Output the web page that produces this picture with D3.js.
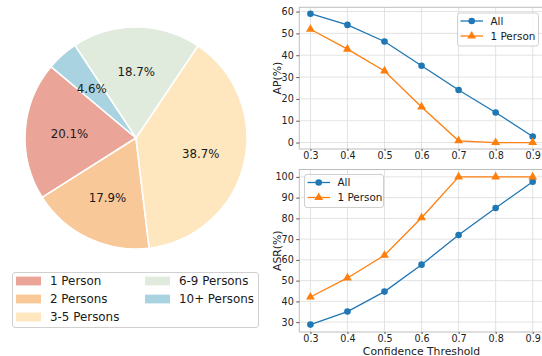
<!DOCTYPE html>
<html><head><meta charset="utf-8">
<script src="https://cdn.jsdelivr.net/npm/d3@7"></script>
<style>body{margin:0;background:#fff}svg{display:block;font-family:"DejaVu Sans",sans-serif}</style>
</head><body><svg id="c" width="542" height="356"></svg>
<script>
// ---- data ----
const groups = ["1 Person","2 Persons","3-5 Persons","6-9 Persons","10+ Persons"];
const shares = [20.1, 17.9, 38.7, 18.7, 4.6];
const pieColors = ["#EBA498","#F8C899","#FEE6BE","#E1EBDD","#A9D3E0"];
const thresholds = [0.3,0.4,0.5,0.6,0.7,0.8,0.9];
const apAll = [59.0, 53.9, 46.3, 35.2, 24.1, 13.8, 2.8];
const ap1P = [51.9, 42.8, 32.8, 16.3, 0.8, 0.0, 0.0];
const asrAll = [28.8, 35.1, 44.7, 57.7, 72.0, 85.0, 97.7];
const asr1P = [42.1, 51.3, 62.2, 80.3, 100, 100, 100];
const seriesNames = ["All","1 Person"];
const lineColors = ["#1f77b4","#ff7f0e"];
const xTicks = [0.3,0.4,0.5,0.6,0.7,0.8,0.9];
const apTicks = [0,10,20,30,40,50,60];
const asrTicks = [30,40,50,60,70,80,90,100];

const svg = d3.select("#c");
const deg = Math.PI/180;

// ---- pie ----
const cx = 136, cy = 138, R = 111;
const pie = d3.pie().sort(null).startAngle(-50*deg).endAngle(-410*deg);
const arcs = pie(shares);
const arc = d3.arc().innerRadius(0).outerRadius(R);
const lab = d3.arc().innerRadius(R*0.6).outerRadius(R*0.6);
const pg = svg.append("g").attr("transform",`translate(${cx},${cy})`);
pg.selectAll("path").data(arcs).join("path")
  .attr("d",arc).attr("fill",(d,i)=>pieColors[i])
  .attr("stroke","#fff").attr("stroke-width",1.6).attr("stroke-linejoin","round");
pg.selectAll("text").data(arcs).join("text")
  .attr("transform",d=>`translate(${lab.centroid(d)})`)
  .attr("text-anchor","middle").attr("dy","0.36em")
  .attr("font-size",11.8).attr("fill","#1a1a1a")
  .text(d=>d.data.toFixed(1)+"%");

// pie legend
const lg = svg.append("g");
lg.append("rect").attr("x",12.5).attr("y",272.5).attr("width",246).attr("height",55)
  .attr("rx",2.5).attr("fill","#fff").attr("stroke","#d0d0d0").attr("stroke-width",1);
groups.forEach((g,i)=>{
  const col = i<3?0:1, row = i<3?i:i-3;
  const px = col===0?16:145, py = 281 + row*18;
  lg.append("rect").attr("x",px).attr("y",py-4.4).attr("width",25).attr("height",8.8).attr("fill",pieColors[i]);
  lg.append("text").attr("x",px+34).attr("y",py).attr("dy","0.36em")
    .attr("font-size",11.9).attr("fill","#1a1a1a").text(g);
});

// ---- line charts ----
const x = d3.scaleLinear().domain([0.27,0.93]).range([299.3,543.8]);
function pad(vals){const mn=d3.min(vals),mx=d3.max(vals),m=(mx-mn)*0.05;return [mn-m,mx+m];}

function panel(top,bottom,ySeries,yTicks,yLabel,legendPos,showXLabel){
  const y = d3.scaleLinear().domain(pad(ySeries.flat())).range([bottom,top]);
  const g = svg.append("g");
  // grid
  g.selectAll(".gx").data(xTicks).join("line")
    .attr("x1",d=>x(d)).attr("x2",d=>x(d)).attr("y1",top).attr("y2",bottom)
    .attr("stroke","#e0e0e0").attr("stroke-width",0.9);
  g.selectAll(".gy").data(yTicks).join("line")
    .attr("x1",x.range()[0]).attr("x2",x.range()[1]).attr("y1",d=>y(d)).attr("y2",d=>y(d))
    .attr("stroke","#e0e0e0").attr("stroke-width",0.9);
  // frame
  g.append("rect").attr("x",x.range()[0]).attr("y",top).attr("width",x.range()[1]-x.range()[0]).attr("height",bottom-top)
    .attr("fill","none").attr("stroke","#bdbdbd").attr("stroke-width",1);
  // axes
  const ax = g.append("g").attr("transform",`translate(0,${bottom})`)
    .call(d3.axisBottom(x).tickValues(xTicks).tickFormat(d3.format(".1f")).tickSize(2).tickPadding(1.5));
  const ay = g.append("g").attr("transform",`translate(${x.range()[0]},0)`)
    .call(d3.axisLeft(y).tickValues(yTicks).tickSize(3).tickPadding(2.5));
  [ax,ay].forEach(a=>{
    a.select(".domain").remove();
    a.selectAll("line").attr("stroke","#555");
    a.selectAll("text").attr("font-size",9.6).attr("fill","#222").attr("font-family","DejaVu Sans");
  });
  g.append("text").attr("transform",`translate(281,${(top+bottom)/2}) rotate(-90)`)
    .attr("text-anchor","middle").attr("font-size",10.8).attr("fill","#222").text(yLabel);
  if(showXLabel){
    g.append("text").attr("x",(x(0.3)+x(0.9))/2).attr("y",354.5).attr("text-anchor","middle")
      .attr("font-size",10.8).attr("fill","#222").text("Confidence Threshold");
  }
  const line = d3.line().x((d,i)=>x(thresholds[i])).y(d=>y(d));
  ySeries.forEach((s,k)=>{
    g.append("path").attr("d",line(s)).attr("fill","none").attr("stroke",lineColors[k]).attr("stroke-width",1.3);
    const mk = g.append("g");
    s.forEach((v,i)=>{
      if(k===0) mk.append("circle").attr("cx",x(thresholds[i])).attr("cy",y(v)).attr("r",3.3).attr("fill",lineColors[k]);
      else mk.append("path").attr("transform",`translate(${x(thresholds[i])},${y(v)})`)
        .attr("d",d3.symbol(d3.symbolTriangle,34)()).attr("fill",lineColors[k]);
    });
  });
  // legend
  const [lx,ly,lw] = legendPos;
  const L = g.append("g");
  L.append("rect").attr("x",lx+0.5).attr("y",ly+0.5).attr("width",lw).attr("height",33).attr("rx",2.5)
    .attr("fill","#fff").attr("fill-opacity",0.8).attr("stroke","#d0d0d0");
  seriesNames.forEach((n,k)=>{
    const ry = ly+8.5+k*15;
    L.append("line").attr("x1",lx+3.5).attr("x2",lx+26).attr("y1",ry).attr("y2",ry).attr("stroke",lineColors[k]).attr("stroke-width",1.3);
    if(k===0) L.append("circle").attr("cx",lx+14.7).attr("cy",ry).attr("r",3.3).attr("fill",lineColors[k]);
    else L.append("path").attr("transform",`translate(${lx+14.7},${ry})`).attr("d",d3.symbol(d3.symbolTriangle,34)()).attr("fill",lineColors[k]);
    L.append("text").attr("x",lx+33.5).attr("y",ry).attr("dy","0.36em").attr("font-size",10.4).attr("fill","#1a1a1a").text(n);
  });
}
panel(7.3,149,[apAll,ap1P],apTicks,"AP(%)",[457,12.5,81],false);
panel(169.5,332,[asrAll,asr1P],asrTicks,"ASR(%)",[304,174,79],true);
</script></body></html>
